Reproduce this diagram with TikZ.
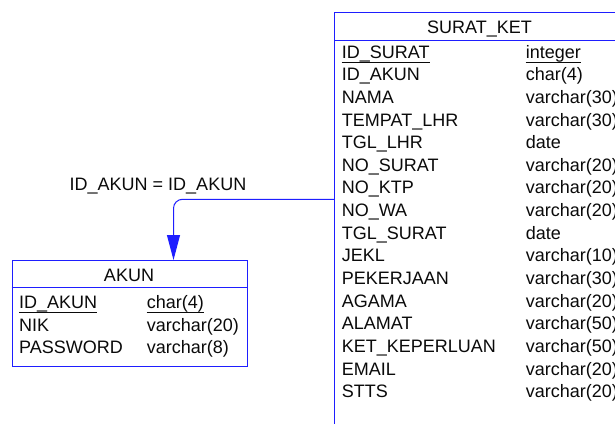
\documentclass[tikz,border=0pt]{standalone}
\usepackage{fontspec}
\setmainfont{Liberation Sans}
\usetikzlibrary{arrows.meta}
\definecolor{erblue}{RGB}{30,30,255}
\definecolor{ertext}{RGB}{10,10,10}
\begin{document}
\begin{tikzpicture}[x=1pt,y=1pt,
  every node/.style={font=\fontsize{18}{21}\selectfont, text=ertext, inner sep=0pt},
  tblbox/.style={draw=erblue, line width=1pt, fill=white, inner sep=0pt},
  tblline/.style={draw=erblue, line width=1pt},
  fld/.style={anchor=base west},
  uline/.style={draw=ertext, line width=0.9pt},
  rel/.style={draw=erblue, line width=1pt}]
\useasboundingbox (0,0) rectangle (615,-423);
\clip (0,0) rectangle (615,-423);

% SURAT_KET table
\node[tblbox, anchor=north west, minimum width=291pt, minimum height=430pt] (sk) at (334,-12.3) {};
\draw[tblline] ([yshift=-28.4pt]sk.north west) -- ([yshift=-28.4pt]sk.north east);
\node[anchor=base] (skh) at (479.5,-33.3) {SURAT\_KET};
\foreach \n/\t [count=\i from 0] in {
  {ID\_SURAT}/{integer},
  {ID\_AKUN}/{char(4)},
  {NAMA}/{varchar(30)},
  {TEMPAT\_LHR}/{varchar(30)},
  {TGL\_LHR}/{date},
  {NO\_SURAT}/{varchar(20)},
  {NO\_KTP}/{varchar(20)},
  {NO\_WA}/{varchar(20)},
  {TGL\_SURAT}/{date},
  {JEKL}/{varchar(10)},
  {PEKERJAAN}/{varchar(30)},
  {AGAMA}/{varchar(20)},
  {ALAMAT}/{varchar(50)},
  {KET\_KEPERLUAN}/{varchar(50)},
  {EMAIL}/{varchar(20)},
  {STTS}/{varchar(20)}} {
  \node[fld] (skn\i) at (341.7,-58.1-22.64*\i) {\n};
  \node[fld] (skt\i) at (525.7,-58.1-22.64*\i) {\t};
}
\draw[uline] ([yshift=-4.5pt]skn0.base west) -- ([yshift=-4.5pt]skn0.base east);
\draw[uline] ([yshift=-4.5pt]skt0.base west) -- ([yshift=-4.5pt]skt0.base east);

% AKUN table
\node[tblbox, anchor=north west, minimum width=235pt, minimum height=106pt] (ak) at (11.7,-260) {};
\draw[tblline] ([yshift=-27.3pt]ak.north west) -- ([yshift=-27.3pt]ak.north east);
\node[anchor=base] (akh) at (129,-281.7) {AKUN};
\foreach \n/\t [count=\i from 0] in {
  {ID\_AKUN}/{char(4)},
  {NIK}/{varchar(20)},
  {PASSWORD}/{varchar(8)}} {
  \node[fld] (akn\i) at (19,-308.5-22.6*\i) {\n};
  \node[fld] (akt\i) at (146.7,-308.5-22.6*\i) {\t};
}
\draw[uline] ([yshift=-3.5pt]akn0.base west) -- ([yshift=-3.5pt]akn0.base east);
\draw[uline] ([yshift=-3.5pt]akt0.base west) -- ([yshift=-3.5pt]akt0.base east);

% relationship
\coordinate (relstart) at (sk.west |- 0,-199.3);
\coordinate (relend) at ([xshift=161.8pt]ak.north west);
\draw[rel, rounded corners=9pt, -{Triangle[length=25pt,width=13pt]}] (relstart) -| (relend);
\node[anchor=base] (lbl) at (158,-190) {ID\_AKUN = ID\_AKUN};
\end{tikzpicture}
\end{document}
